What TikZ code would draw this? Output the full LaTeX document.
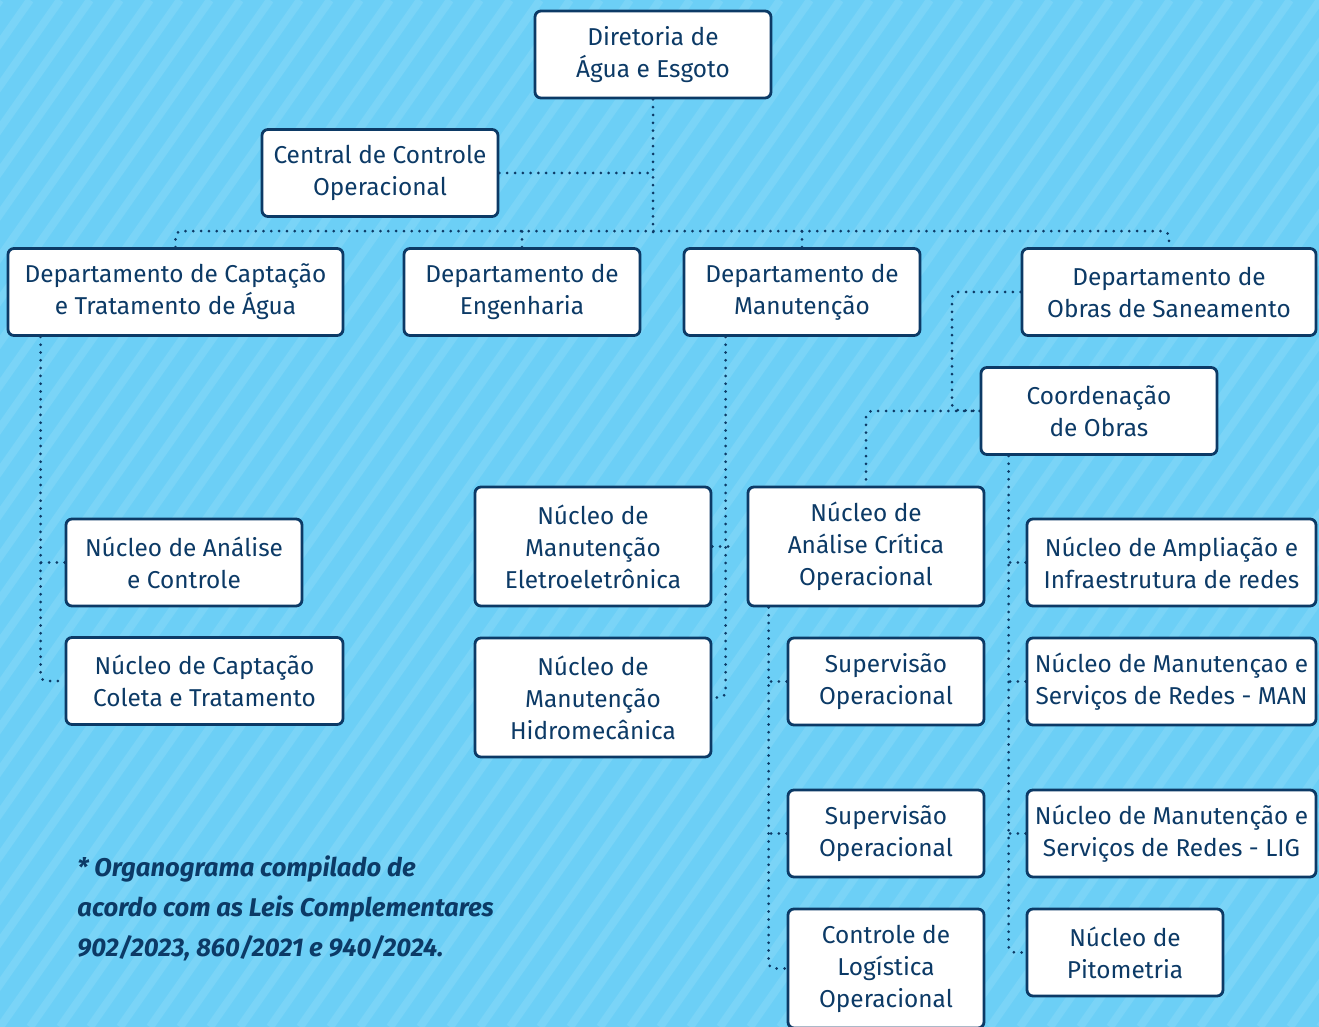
\documentclass[tikz,border=0pt]{standalone}
\usepackage{fontspec}
\setmainfont{Fira Sans}
\usepackage{xcolor}
\usetikzlibrary{calc}
\usetikzlibrary{positioning}
\definecolor{sky}{HTML}{6CCFF6}
\definecolor{skylight}{HTML}{7AD4F7}
\definecolor{navy}{HTML}{0C3A66}
\tikzset{>=latex}
\tikzstyle{box} = [draw=navy, line width=1.4pt, fill=white, rounded corners=3pt, text=navy, align=center, inner sep=2pt, minimum height=43.5pt, font=\fontsize{12.2}{16}\selectfont]
\tikzstyle{link} = [-, draw=navy, line width=1.5pt, line cap=round, dash pattern=on 0pt off 3.9pt, rounded corners=3pt]
\tikzstyle{stripe} = [draw=skylight, line width=4pt]

\begin{document}
\begin{tikzpicture}[x=0.5pt, y=-0.5pt]
% background
\fill [sky] (0, 0) rectangle (1319, 1027);
\begin{scope}
\clip (0, 0) rectangle (1319, 1027);
\foreach \i in {-26,...,46}
  \draw [stripe] (\i*30, 1027) -- ++(720, -1027);
\end{scope}
\useasboundingbox (0, 0) rectangle (1319, 1027);

% top
\node [box, minimum width=118pt] (dir) at (653, 54.5) {Diretoria de\\Água e Esgoto};
\node [box, minimum width=118pt] (cco) at (380, 173) {Central de Controle\\Operacional};

% departments
\node [box, minimum width=167.5pt] (dcap) at (175.5, 292) {Departamento de Captação\\e Tratamento de Água};
\node [box, minimum width=118pt] (deng) at (522, 292) {Departamento de\\Engenharia};
\node [box, minimum width=118pt] (dman) at (802, 292) {Departamento de\\Manutenção};
\node [box, minimum width=147pt] (dobr) at (1169, 292) {Departamento de\\Obras de Saneamento};
\node [box, minimum width=118pt] (coo) at (1099, 411) {Coordenação\\de Obras};

% captacao
\node [box, minimum width=118pt] (nanc) at (184, 562.5) {Núcleo de Análise\\e Controle};
\node [box, minimum width=138.5pt] (ncol) at (204.5, 681) {Núcleo de Captação\\Coleta e Tratamento};

% manutencao
\node [box, minimum width=118pt, minimum height=59.5pt] (nele) at (593, 546.5) {Núcleo de\\Manutenção\\Eletroeletrônica};
\node [box, minimum width=118pt, minimum height=59.5pt] (nhid) at (593, 697.5) {Núcleo de\\Manutenção\\Hidromecânica};

% obras
\node [box, minimum width=118pt, minimum height=59.5pt] (ncri) at (866, 546.5) {Núcleo de\\Análise Crítica\\Operacional};
\node [box, minimum width=98pt] (sup1) at (886, 681.5) {Supervisão\\Operacional};
\node [box, minimum width=98pt] (sup2) at (886, 833.5) {Supervisão\\Operacional};
\node [box, minimum width=98pt, minimum height=59.5pt] (nlog) at (886, 968.5) {Controle de\\Logística\\Operacional};
\node [box, minimum width=144.5pt] (namp) at (1171.5, 562.5) {Núcleo de Ampliação e\\Infraestrutura de redes};
\node [box, minimum width=144.5pt] (nman) at (1171.5, 681.5) {Núcleo de Manutençao e\\Serviços de Redes - MAN};
\node [box, minimum width=144.5pt] (nlig) at (1171.5, 833.5) {Núcleo de Manutenção e\\Serviços de Redes - LIG};
\node [box, minimum width=98pt] (npit) at (1125, 952.5) {Núcleo de\\Pitometria};

% note
\node [anchor=north west, align=left, text=navy, inner sep=0pt, font=\fontsize{12.8}{20}\selectfont\bfseries\itshape] (note) at (77, 855) {* Organograma compilado de\\acordo com as Leis Complementares\\902/2023, 860/2021 e 940/2024.};

% links
\coordinate (bus) at (653, 232);
\draw [link] (dir) -- (bus);
\draw [link] (cco.east) -- (cco.east -| dir.south);
\draw [link] (dcap.north) -- ++(0, -16) -| (dobr.north);
\draw [link] (deng.north) -- ++(0, -16);
\draw [link] (dman.north) -- ++(0, -16);

\draw [link] ([xshift=17pt]dcap.south west) |- (ncol.west);
\draw [link] (nanc.west) -- ++(-24, 0);

\draw [link] ([xshift=21.5pt]dman.south west) |- (nhid.east);
\draw [link] (nele.east) -- ++(16, 0);

\coordinate (obrturn) at (952, 410);
\draw [link] (dobr.west) -| (obrturn) -- (coo.west);
\draw [link] (coo.west) -| (ncri.north);

\draw [link] ([xshift=14.5pt]coo.south west) |- (npit.west);
\draw [link] (namp.west) -- ++(-17, 0);
\draw [link] (nman.west) -- ++(-17, 0);
\draw [link] (nlig.west) -- ++(-17, 0);

\draw [link] ([xshift=11pt]ncri.south west) |- (nlog.west);
\draw [link] (sup1.west) -- ++(-18, 0);
\draw [link] (sup2.west) -- ++(-18, 0);
\end{tikzpicture}
\end{document}
